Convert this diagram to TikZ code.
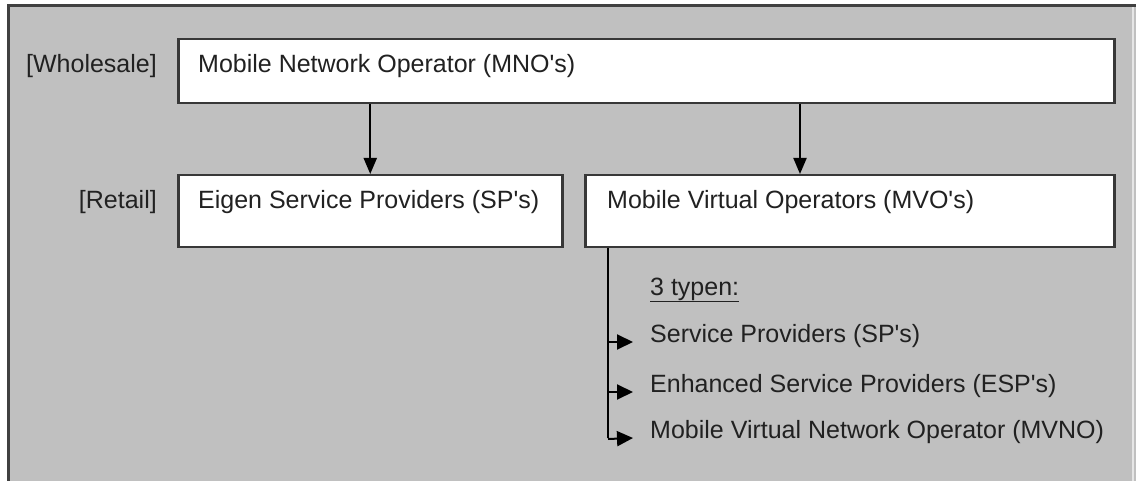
\documentclass[tikz,border=0pt]{standalone}
\usepackage{fontspec}
\setmainfont{Liberation Sans}
\usepackage{xcolor}
\usetikzlibrary{arrows.meta,positioning}
\definecolor{mygray}{gray}{0.753}
\definecolor{myedge}{gray}{0.22}
\definecolor{mytext}{gray}{0.13}
\definecolor{myframe}{gray}{0.25}
\newcommand\qs{\textquotesingle}
\tikzset{
  opbox/.style={draw=myedge,fill=white,line width=2.5pt,inner sep=0pt,anchor=north west},
  lbl/.style={font=\fontsize{25}{28}\selectfont,text=mytext,inner sep=0pt,anchor=base west},
  arr/.style={draw=black,line width=2pt,-{Triangle[length=16pt,width=13pt]}},
  subarr/.style={draw=black,line width=2pt,-{Triangle[length=16pt,width=15pt]}}
}

\begin{document}
\begin{tikzpicture}[x=1pt,y=-1pt]

\useasboundingbox (0,0) rectangle (1136,481);
\fill[mygray] (8,6) rectangle (1136,481);
\draw[myframe,line width=3pt] (8,481) -- (8,6) -- (1136,6);
\draw[white!60!mygray,line width=1.5pt] (1133,7.5) -- (1133,481);

\node[opbox,minimum width=936,minimum height=64] (mno) at (177,38) {};
\node[opbox,minimum width=384,minimum height=72] (sp) at (177,174) {};
\node[opbox,minimum width=529,minimum height=72] (mvo) at (584,174) {};

\node[lbl] (mnotxt) at (198,73) {Mobile Network Operator (MNO\qs s)};
\node[lbl] (sptxt) at (198,209) {Eigen Service Providers (SP\qs s)};
\node[lbl] (mvotxt) at (607,209) {Mobile Virtual Operators (MVO\qs s)};
\node[lbl,anchor=base east] (wholesale) at (157,73) {[Wholesale]};
\node[lbl,anchor=base east] (retail) at (157,209) {[Retail]};

\node[lbl] (typen) at (650,295) {\underline{3 typen:}};
\node[lbl] (sp2) at (650,342) {Service Providers (SP\qs s)};
\node[lbl] (esp) at (650,392) {Enhanced Service Providers (ESP\qs s)};
\node[lbl] (mvno) at (650,438) {Mobile Virtual Network Operator (MVNO)};

\coordinate (mvoin) at (800,174);
\coordinate (br) at ([xshift=24pt]mvo.south west);

\draw[arr] (mno.south -| sp.north) -- (sp.north);
\draw[arr] (mvoin |- mno.south) -- (mvoin);

\draw[line width=2pt] (br) -- (br |- mvno.base);
\draw[subarr] (br |- sp2.base) -- ([xshift=-17pt]sp2.base west);
\draw[subarr] (br |- esp.base) -- ([xshift=-17pt]esp.base west);
\draw[subarr] ([yshift=-1pt]br |- mvno.base) -- ([xshift=-17pt]mvno.base west);
\end{tikzpicture}
\end{document}
